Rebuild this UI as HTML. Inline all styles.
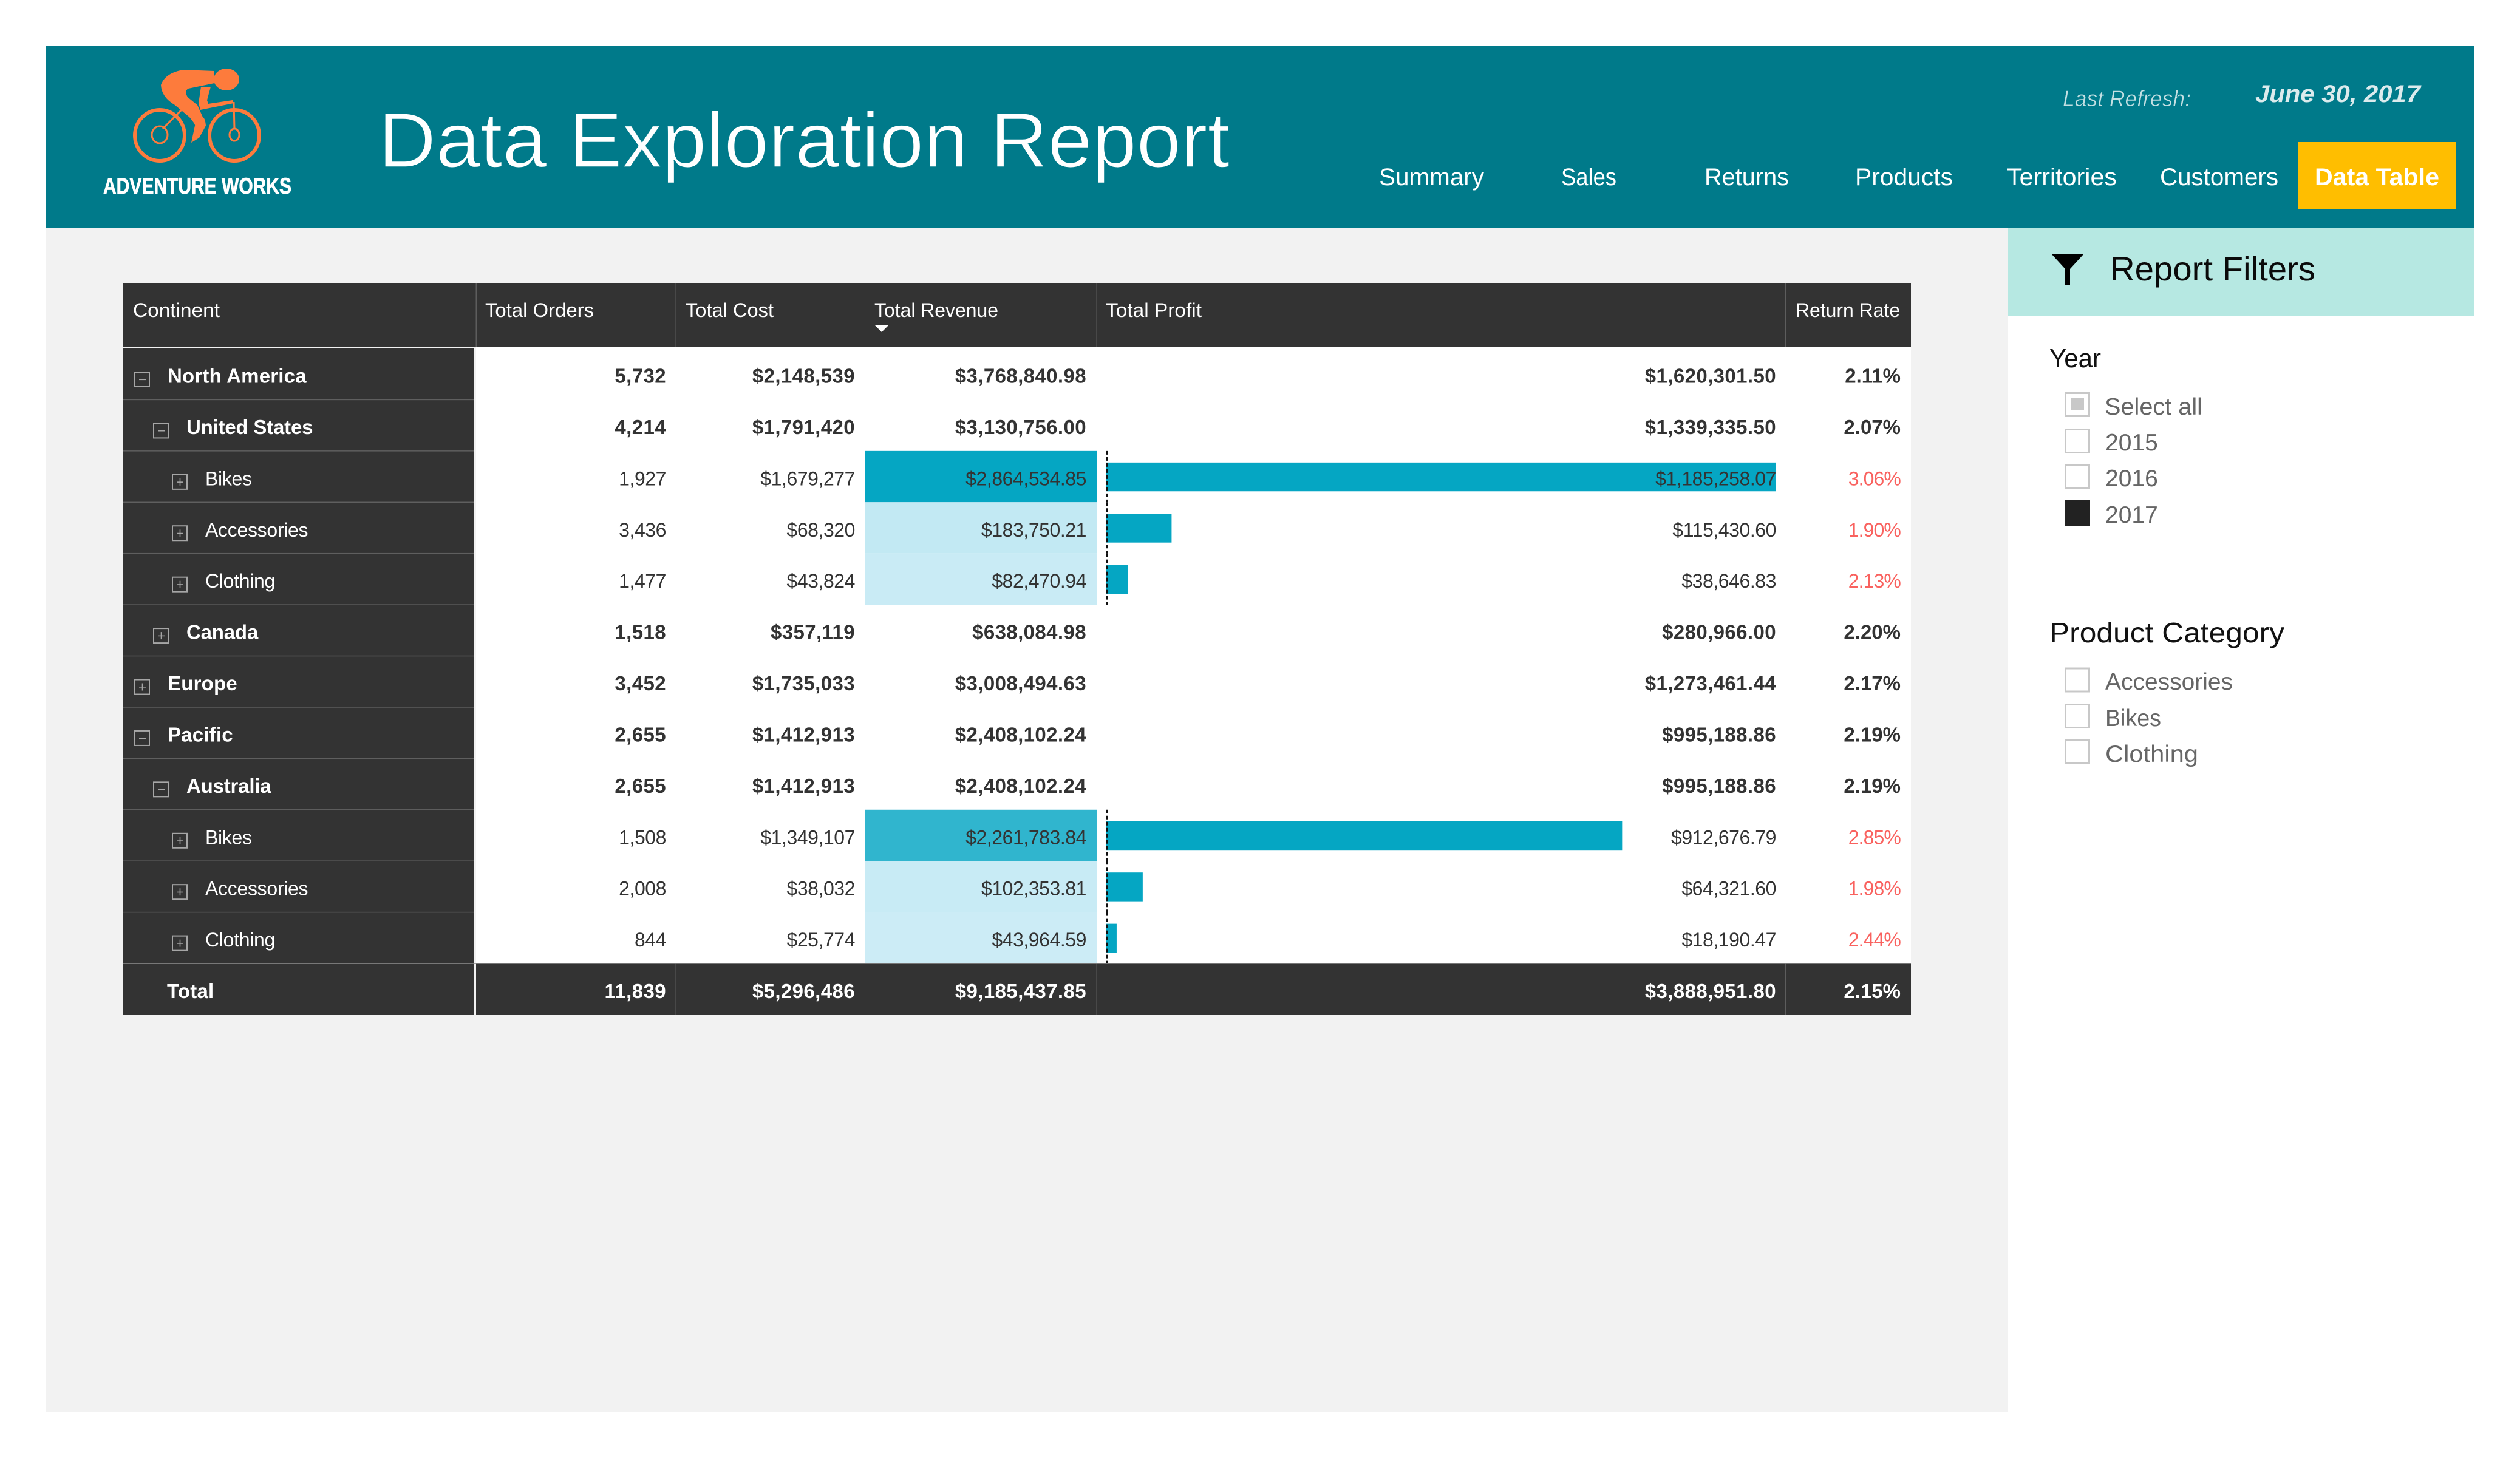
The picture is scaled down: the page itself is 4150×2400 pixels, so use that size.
<!DOCTYPE html>
<html lang="en">
<head>
<meta charset="utf-8">
<title>Data Exploration Report</title>
<style>
html,body{margin:0;padding:0;background:#fff;}
svg{display:block;}
text{font-family:"Liberation Sans",sans-serif;white-space:pre;}
</style>
</head>
<body>
<svg id="report" xmlns="http://www.w3.org/2000/svg" width="4150" height="2400" viewBox="0 0 4150 2400">
  <rect x="0" y="0" width="4150" height="2400" fill="#ffffff"/>
  <rect x="75" y="375" width="3232" height="1951" fill="#f2f2f2"/>
  <rect x="75" y="75" width="4000" height="300" fill="#007a8a"/>

  <g>
    <g fill="none" stroke="#fd7b3c">
      <ellipse cx="263" cy="223" rx="41" ry="42" stroke-width="6"/>
      <ellipse cx="386" cy="223" rx="41" ry="42" stroke-width="6"/>
      <ellipse cx="263" cy="222" rx="13" ry="14" stroke-width="3"/>
      <ellipse cx="386" cy="222" rx="8" ry="10" stroke-width="3"/>
      <path d="M268 212 L300 180 M385 168 L386 212" stroke-width="3"/>
    </g>
    <ellipse cx="373" cy="131" rx="21" ry="18" fill="#fd7b3c"/>
    <path d="M353 117 L302 115 Q272 120 265 140 Q266 160 288 173 L312 193 Q322 205 321 207 L315 235 L328 227 L339 207 Q338 195 334 193 L325 173 L309 160 Q303 150 310 146 L353 137 Z" fill="#fd7b3c"/>
    <path d="M331 143 L347 143 L341 165 L343 171 L383 165 L385 170 L330 181 L327 170 Z" fill="#fd7b3c"/>
    <text x="170" y="319" font-size="37" font-weight="700" fill="#ffffff" stroke="#ffffff" stroke-width="0.8" textLength="310" lengthAdjust="spacingAndGlyphs">ADVENTURE WORKS</text>
  </g>

  <text x="623" y="275" font-size="128" fill="#ffffff" stroke="#007a8a" stroke-width="1.6" textLength="1402" lengthAdjust="spacingAndGlyphs">Data Exploration Report</text>

  <text x="3397" y="175" font-size="37" font-style="italic" fill="#c4e0e3" stroke="#007a8a" stroke-width="0.6" textLength="211" lengthAdjust="spacingAndGlyphs">Last Refresh:</text>
  <text x="3714" y="168" font-size="40" font-style="italic" font-weight="700" fill="#dcebed" textLength="272" lengthAdjust="spacingAndGlyphs">June 30, 2017</text>

  <g font-size="40" fill="#ffffff">
    <text x="2271" y="305" textLength="173" lengthAdjust="spacingAndGlyphs">Summary</text>
    <text x="2571" y="305" textLength="91" lengthAdjust="spacingAndGlyphs">Sales</text>
    <text x="2807" y="305" textLength="139" lengthAdjust="spacingAndGlyphs">Returns</text>
    <text x="3055" y="305" textLength="161" lengthAdjust="spacingAndGlyphs">Products</text>
    <text x="3305" y="305" textLength="181" lengthAdjust="spacingAndGlyphs">Territories</text>
    <text x="3557" y="305" textLength="195" lengthAdjust="spacingAndGlyphs">Customers</text>
    <rect x="3784" y="234" width="260" height="110" fill="#ffbe00"/>
    <text x="3812" y="305" font-weight="700" textLength="205" lengthAdjust="spacingAndGlyphs">Data Table</text>
  </g>

  <g>
    <rect x="3307" y="375" width="768" height="146" fill="#b6e8e2"/>
    <path d="M3379 419 H3431 L3409 443 V470 H3401 V443 Z" fill="#000000"/>
    <text x="3475" y="462" font-size="56" fill="#0a0a0a" textLength="338" lengthAdjust="spacingAndGlyphs">Report Filters</text>

    <text x="3375" y="605" font-size="44" fill="#111111" textLength="85" lengthAdjust="spacingAndGlyphs">Year</text>
    <g font-size="39" fill="#666666">
      <rect x="3401.5" y="647.5" width="39" height="38" fill="#ffffff" stroke="#c8c8c8" stroke-width="3"/>
      <rect x="3410" y="656" width="22" height="20" fill="#c8c8c8"/>
      <text x="3466" y="683" textLength="161" lengthAdjust="spacingAndGlyphs">Select all</text>
      <rect x="3401.5" y="707.5" width="39" height="38" fill="#ffffff" stroke="#c8c8c8" stroke-width="3"/>
      <text x="3467" y="742">2015</text>
      <rect x="3401.5" y="766" width="39" height="38" fill="#ffffff" stroke="#c8c8c8" stroke-width="3"/>
      <text x="3467" y="801">2016</text>
      <rect x="3400" y="824" width="42" height="42" fill="#222222"/>
      <text x="3467" y="861">2017</text>
    </g>

    <text x="3375" y="1058" font-size="46" fill="#111111" textLength="387" lengthAdjust="spacingAndGlyphs">Product Category</text>
    <g font-size="39" fill="#666666">
      <rect x="3401.5" y="1101" width="39" height="38" fill="#ffffff" stroke="#c8c8c8" stroke-width="3"/>
      <text x="3467" y="1136" textLength="210" lengthAdjust="spacingAndGlyphs">Accessories</text>
      <rect x="3401.5" y="1160.5" width="39" height="38" fill="#ffffff" stroke="#c8c8c8" stroke-width="3"/>
      <text x="3467" y="1196" textLength="92" lengthAdjust="spacingAndGlyphs">Bikes</text>
      <rect x="3401.5" y="1219.5" width="39" height="38" fill="#ffffff" stroke="#c8c8c8" stroke-width="3"/>
      <text x="3467" y="1255" textLength="153" lengthAdjust="spacingAndGlyphs">Clothing</text>
    </g>
  </g>

  <g id="matrix">
    <rect x="203" y="466" width="2944" height="105" fill="#333333"/>
    <rect x="784" y="571" width="2363" height="1016" fill="#ffffff"/>
    <rect x="203" y="574" width="578" height="1098" fill="#333333"/>
    <rect x="784" y="1587" width="2363" height="85" fill="#333333"/>
    <g fill="#5d5d5d">
      <rect x="783.5" y="466" width="1.5" height="105"/>
      <rect x="1112.5" y="466" width="1.5" height="105"/>
      <rect x="1805.5" y="466" width="1.5" height="105"/>
      <rect x="2939.5" y="466" width="1.5" height="105"/>
      <rect x="1112.5" y="1587" width="1.5" height="85"/>
      <rect x="1805.5" y="1587" width="1.5" height="85"/>
      <rect x="2939.5" y="1587" width="1.5" height="85"/>
    </g>
    <g font-size="32" fill="#ffffff">
      <text x="219" y="522" textLength="143" lengthAdjust="spacingAndGlyphs">Continent</text>
      <text x="799" y="522" textLength="179" lengthAdjust="spacingAndGlyphs">Total Orders</text>
      <text x="1129" y="522" textLength="145" lengthAdjust="spacingAndGlyphs">Total Cost</text>
      <text x="1440" y="522" textLength="204" lengthAdjust="spacingAndGlyphs">Total Revenue</text>
      <path d="M1440 535 H1464 L1452 547 Z"/>
      <text x="1821" y="522" textLength="158" lengthAdjust="spacingAndGlyphs">Total Profit</text>
      <text x="2957" y="522" textLength="172" lengthAdjust="spacingAndGlyphs">Return Rate</text>
    </g>
    <g id="heat-layer"></g>
    <g id="bar-layer"></g>
    <g id="axis-layer"></g>
    <g id="row-layer"></g>
    <g id="total-layer"></g>
  </g>
</svg>

<script>
const rowLabels = ["North America","United States","Bikes","Accessories","Clothing","Canada","Europe","Pacific","Australia","Bikes","Accessories","Clothing"];
const rowLevels = [0,1,2,2,2,1,0,0,1,2,2,2];
const rowExpanded = [true,true,false,false,false,false,false,true,true,false,false,false];
const orders = [5732,4214,1927,3436,1477,1518,3452,2655,2655,1508,2008,844];
const costs = [2148539,1791420,1679277,68320,43824,357119,1735033,1412913,1412913,1349107,38032,25774];
const revenue = [3768840.98,3130756.00,2864534.85,183750.21,82470.94,638084.98,3008494.63,2408102.24,2408102.24,2261783.84,102353.81,43964.59];
const profit = [1620301.50,1339335.50,1185258.07,115430.60,38646.83,280966.00,1273461.44,995188.86,995188.86,912676.79,64321.60,18190.47];
const returnRate = [2.11,2.07,3.06,1.90,2.13,2.20,2.17,2.19,2.19,2.85,1.98,2.44];
const totalLabel = "Total";
const totalOrders = 11839;
const totalCost = 5296486;
const totalRevenue = 9185437.85;
const totalProfit = 3888951.80;
const totalRate = 2.15;

const NS = "http://www.w3.org/2000/svg";
const ROW_TOP = 574, ROW_H = 84.42, BASE = 56.5;
const X_ORDERS = 1097, X_COST = 1408, X_REV = 1789, X_PROFIT = 2925, X_RATE = 3130;
const HEAT_X0 = 1425, HEAT_X1 = 1806, BAR_X0 = 1822, BAR_X1 = 2925, BAR_PAD = 19;
const HEAT_LO = [204,236,246], HEAT_HI = [5,166,195];

function mk(tag, attrs, parent){
  const el = document.createElementNS(NS, tag);
  for (const k in attrs) el.setAttribute(k, attrs[k]);
  parent.appendChild(el);
  return el;
}
function rowY(i){ return ROW_TOP + i * ROW_H; }
function slug(s){ return s.toLowerCase().replace(/[^a-z0-9]+/g, '-'); }
function fmtInt(v){ return Math.round(v).toLocaleString('en-US'); }
function fmtCost(v){ return '$' + fmtInt(v); }
function fmtMoney(v){ return '$' + v.toLocaleString('en-US',{minimumFractionDigits:2,maximumFractionDigits:2}); }
function fmtRate(v){ return v.toFixed(2) + '%'; }

const detailIdx = rowLevels.map((l,i)=>l===2?i:-1).filter(i=>i>=0);
const profitMax = Math.max(...detailIdx.map(i=>profit[i]));
const revVals = detailIdx.map(i=>revenue[i]);
const revMin = Math.min(...revVals), revMax = Math.max(...revVals);
function profitScale(v){ return (v / profitMax) * (BAR_X1 - BAR_X0); }
function heatColor(v){
  const t = (v - revMin) / ((revMax - revMin) || 1);
  const c = HEAT_LO.map((lo,k)=>Math.round(lo + (HEAT_HI[k]-lo)*t));
  return 'rgb(' + c.join(',') + ')';
}

const heatLayer = document.getElementById('heat-layer');
const barLayer = document.getElementById('bar-layer');
const axisLayer = document.getElementById('axis-layer');
const rowLayer = document.getElementById('row-layer');
const totalLayer = document.getElementById('total-layer');

function cellText(parent, x, y, str, bold, fill, spacing, anchor){
  const t = mk('text', {x:x, y:y, 'font-size':bold?33:32, 'font-weight':bold?700:400, fill:fill, 'text-anchor':anchor||'end', 'letter-spacing':spacing}, parent);
  t.textContent = str;
  return t;
}

rowLabels.forEach((label, i) => {
  const y = rowY(i), lvl = rowLevels[i], bold = lvl < 2, base = y + BASE;
  const key = slug(label) + '-row-' + i;

  if (i > 0) {
    const sep = mk('rect', {x:203, y:y-0.75, width:578, height:1.5, fill:'#5f5f5f'}, rowLayer);
    
    
  }

  const boxX = 221 + lvl * 31;
  const box = mk('rect', {x:boxX+1, y:y+39, width:24, height:24, fill:'none', stroke:'#a6a6a6', 'stroke-width':2}, rowLayer);
  
  
  const dash = mk('rect', {x:boxX+8, y:y+50.5, width:11, height:1.6, fill:'#a6a6a6'}, rowLayer);
  
  
  if (!rowExpanded[i]) {
    const vert = mk('rect', {x:boxX+12.7, y:y+45, width:1.6, height:12, fill:'#a6a6a6'}, rowLayer);
    
    
  }

  const lab = cellText(rowLayer, 276 + lvl * 31, base, label, bold, '#ffffff', lvl === 0 ? 0.2 : (lvl === 1 ? -0.2 : -0.3), 'start');
  
  

  const ink = '#333333';
  const spacing = bold ? 0.4 : -0.45;
  const ordersText = cellText(rowLayer, X_ORDERS, base, fmtInt(orders[i]), bold, ink, spacing);
  
  
  const costText = cellText(rowLayer, X_COST, base, fmtCost(costs[i]), bold, ink, spacing);
  
  

  if (lvl === 2) {
    const heat = mk('rect', {x:HEAT_X0, y:y, width:HEAT_X1-HEAT_X0, height:ROW_H, fill:heatColor(revenue[i])}, heatLayer);
    
    

    const bar = mk('rect', {x:BAR_X0, y:y+BAR_PAD, width:profitScale(profit[i]), height:ROW_H-2*BAR_PAD+1, fill:'#05a6c3'}, barLayer);
    
    

    const axis = mk('line', {x1:BAR_X0+1, x2:BAR_X0+1, y1:y, y2:y+ROW_H, stroke:'#111111', 'stroke-width':2.5, 'stroke-dasharray':'6 4'}, axisLayer);
    
    
  }

  const revText = cellText(rowLayer, X_REV, base, fmtMoney(revenue[i]), bold, ink, spacing);
  
  
  const profitText = cellText(rowLayer, X_PROFIT, base, fmtMoney(profit[i]), bold, ink, spacing);
  
  
  const rateText = cellText(rowLayer, X_RATE, base, fmtRate(returnRate[i]), bold, bold ? ink : '#f9625f', bold ? 0 : -0.9);
  
  
});

const totalTop = rowY(rowLabels.length), totalBase = totalTop + 57;
const totalLine = mk('rect', {x:203, y:totalTop-0.75, width:2944, height:1.5, fill:'#8a8a8a'}, totalLayer);


const totalLab = cellText(totalLayer, 275, totalBase, totalLabel, true, '#ffffff', 0.2, 'start');


const totalOrdersText = cellText(totalLayer, X_ORDERS, totalBase, fmtInt(totalOrders), true, '#ffffff', 0.4);


const totalCostText = cellText(totalLayer, X_COST, totalBase, fmtCost(totalCost), true, '#ffffff', 0.4);


const totalRevenueText = cellText(totalLayer, X_REV, totalBase, fmtMoney(totalRevenue), true, '#ffffff', 0.4);


const totalProfitText = cellText(totalLayer, X_PROFIT, totalBase, fmtMoney(totalProfit), true, '#ffffff', 0.4);


const totalRateText = cellText(totalLayer, X_RATE, totalBase, fmtRate(totalRate), true, '#ffffff', 0);


</script>
</body>
</html>
